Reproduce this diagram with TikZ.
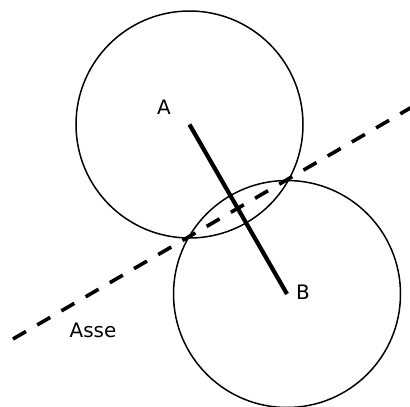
\documentclass[tikz,border=0pt]{standalone}
\usepackage{fontspec}
\setmainfont{DejaVu Sans}
\usepackage{tikz}
\usetikzlibrary{calc}

\begin{document}
\begin{tikzpicture}[x=1bp, y=-1bp, every node/.style={font=\fontsize{20}{23}\selectfont}]
        \def\rad{113.5}
        \useasboundingbox (0,0) rectangle (410,407);

        % centres
        \coordinate (A) at (189.5,124.5);
        \coordinate (B) at (287,294);

        % circles
        \draw[line width=1.5bp] (A) circle (\rad);
        \draw[line width=1.5bp] (B) circle (\rad);

        % segment AB
        \draw[line width=4.2bp] (A) -- (B);

        % axis
        \coordinate (ax1) at (13,339);
        \coordinate (ax2) at (412,107);
        \draw[line width=3.6bp, dash pattern=on 15bp off 13bp] (ax1) -- (ax2);

        % labels
        \node (labA) at (164,107) {A};
        \node (labB) at (303,292) {B};
        \node (labAsse) at (93,330) {Asse};
      \end{tikzpicture}
\end{document}
